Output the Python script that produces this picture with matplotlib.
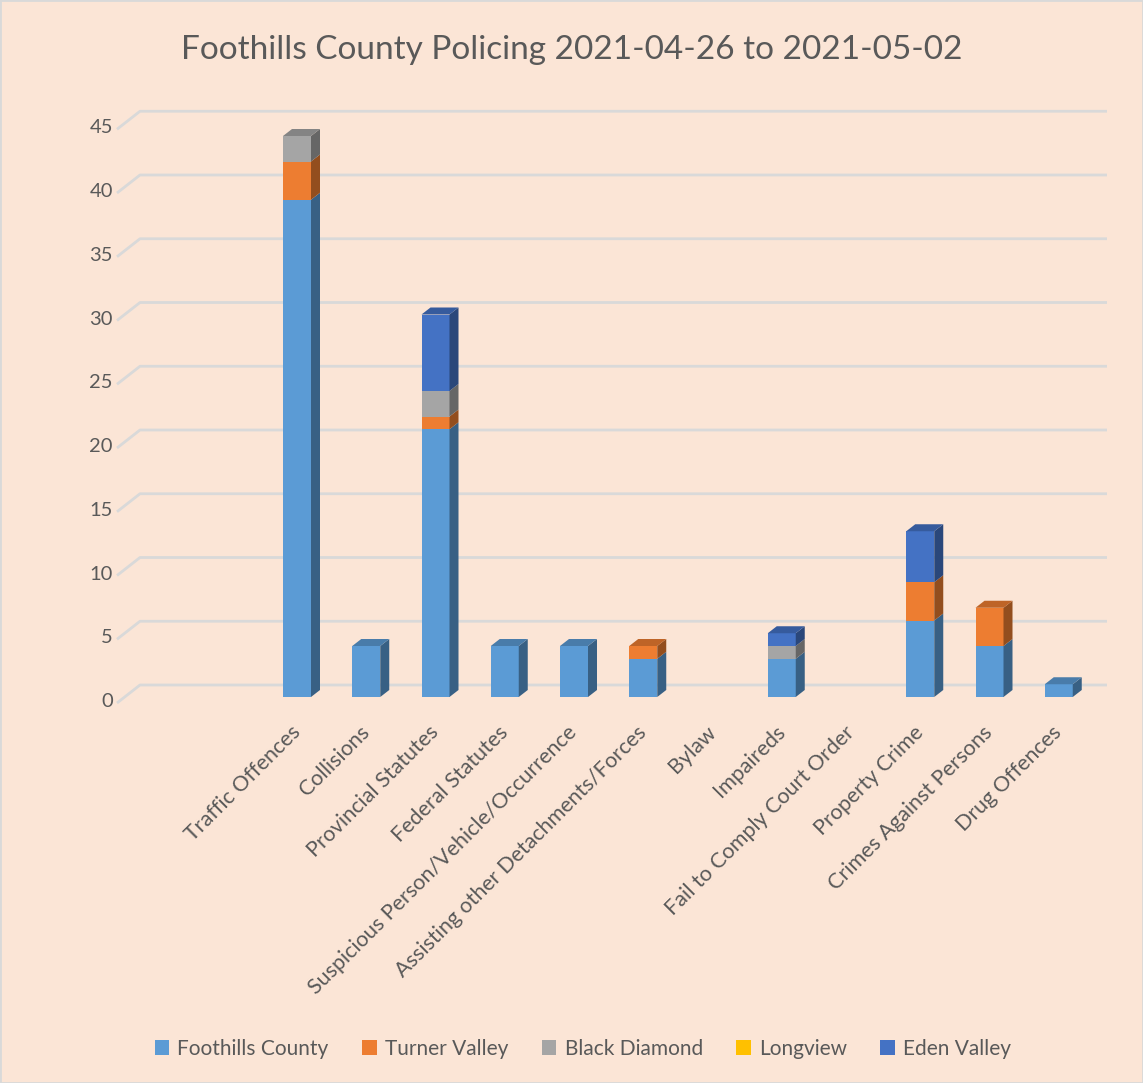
import matplotlib.pyplot as plt
from matplotlib.patches import Polygon, Patch, Rectangle
import matplotlib.colors as mcolors
import numpy as np

plt.rcParams['font.family'] = ['Lato', 'DejaVu Sans']

# data
categories = ['Traffic Offences', 'Collisions', 'Provincial Statutes', 'Federal Statutes',
              'Suspicious Person/Vehicle/Occurrence', 'Assisting other Detachments/Forces',
              'Bylaw', 'Impaireds', 'Fail to Comply Court Order', 'Property Crime',
              'Crimes Against Persons', 'Drug Offences']
foothills = [39, 4, 21, 4, 4, 3, 0, 3, 0, 6, 4, 1]
turner = [3, 0, 1, 0, 0, 1, 0, 0, 0, 3, 3, 0]
black_diamond = [2, 0, 2, 0, 0, 0, 0, 1, 0, 0, 0, 0]
longview = [0, 0, 0, 0, 0, 0, 0, 0, 0, 0, 0, 0]
eden = [0, 0, 6, 0, 0, 0, 0, 1, 0, 4, 0, 0]
series_names = ['Foothills County', 'Turner Valley', 'Black Diamond', 'Longview', 'Eden Valley']
series = [foothills, turner, black_diamond, longview, eden]
colors = ['#5B9BD5', '#ED7D31', '#A5A5A5', '#FFC000', '#4472C4']
yticks = list(range(0, 50, 5))

bg = '#FBE5D6'
txt = '#595959'
grid_c = '#D9D9D9'

W, H = 1143, 1083
fig = plt.figure(figsize=(W / 100, H / 100), dpi=100, facecolor=bg)

# pixel mapping used for the pseudo-3D look
x0, xs = 297, 69.25   # px of category 0, px per category
y0, ys = 697, 12.75   # px of value 0 (bar front), px per unit
L, R, T, B = 80, 1130, 90, 740
ax = fig.add_axes([L / W, 1 - B / H, (R - L) / W, (B - T) / H])
ax.set_facecolor('none')
ax.set_xlim((L - x0) / xs, (R - x0) / xs)
ax.set_ylim((y0 - B) / ys, (y0 - T) / ys)
ax.axis('off')

# gridlines (floor diagonal + back wall)
gx_front, gx_back, gx_end = (117 - x0) / xs, (140 - x0) / xs, (1107 - x0) / xs
g_front, g_back = -6 / ys, 12 / ys
for v in yticks:
    ax.plot([gx_front, gx_back, gx_end], [v + g_front, v + g_back, v + g_back],
            color=grid_c, lw=2, zorder=1, solid_capstyle='butt')
    ax.text((113 - x0) / xs, v + g_front + 0.1, str(v), ha='right', va='center',
            fontsize=14.5, color=txt)

bw = 28 / xs
dx, dy = 9 / xs, 7 / ys


def shade(c, f):
    r, g, b = mcolors.to_rgb(c)
    return (r * f, g * f, b * f)


x = np.arange(len(categories))
bottom = np.zeros(len(categories))
tops = np.array(series).sum(axis=0)
for name, vals, c in zip(series_names, series, colors):
    vals = np.array(vals, dtype=float)
    ax.bar(x, vals, bw, bottom=bottom, color=c, zorder=3, lw=0)
    for i in range(len(x)):
        if vals[i] == 0:
            continue
        xr = x[i] + bw / 2
        b0, b1 = bottom[i], bottom[i] + vals[i]
        side = Polygon([(xr, b0), (xr + dx, b0 + dy), (xr + dx, b1 + dy), (xr, b1)],
                       closed=True, facecolor=shade(c, 0.62), lw=0, zorder=3)
        ax.add_patch(side)
        if b1 == tops[i]:
            xl = x[i] - bw / 2
            top = Polygon([(xl, b1), (xr, b1), (xr + dx, b1 + dy), (xl + dx, b1 + dy)],
                          closed=True, facecolor=shade(c, 0.8), lw=0, zorder=3)
            ax.add_patch(top)
    bottom += vals

for i, lab in enumerate(categories):
    ax.text(x[i] - 0.1, (y0 - 722) / ys, lab, rotation=45, rotation_mode='anchor',
            ha='right', va='top', fontsize=15.5, color=txt, clip_on=False)

fig.text(0.5, 1 - 50 / H, 'Foothills County Policing 2021-04-26 to 2021-05-02',
         ha='center', va='center', fontsize=24, color=txt)

handles = [Patch(facecolor=c, label=n) for n, c in zip(series_names, colors)]
fig.legend(handles=handles, loc='center', bbox_to_anchor=(0.51, 1 - 1049 / H), ncol=5,
           frameon=False, fontsize=15, labelcolor=txt, handlelength=0.7, handleheight=0.7,
           handletextpad=0.4, columnspacing=1.6)

fig.patches.append(Rectangle((0, 0), 1, 1, transform=fig.transFigure, fill=False,
                             edgecolor=grid_c, lw=2))

fig.savefig('out.png', dpi=100, facecolor=bg)
